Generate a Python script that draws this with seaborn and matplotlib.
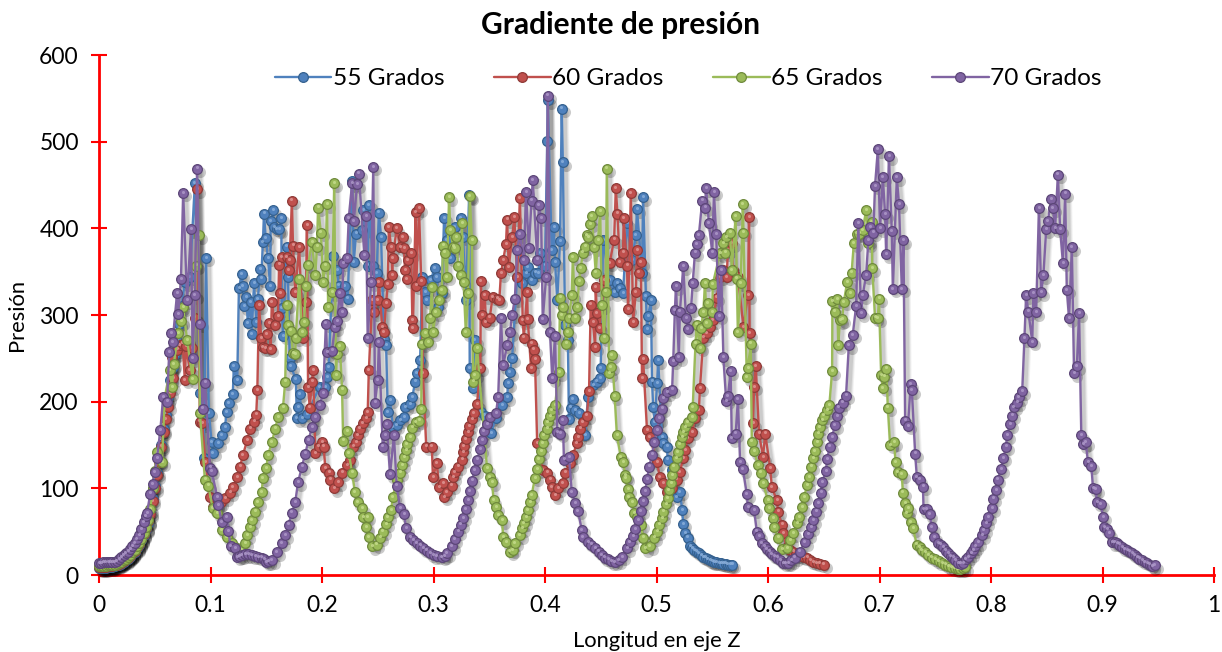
#!/usr/bin/env python
# -*- coding: utf-8 -*-
"""Gradiente de presion a lo largo del eje Z, para cuatro angulos."""

import pandas as pd
import matplotlib
matplotlib.use('Agg')
import matplotlib.pyplot as plt
from matplotlib.transforms import ScaledTranslation
import seaborn as sns

# ==================== Data (x, presion) ====================
SERIES_LABELS = ['55 Grados', '60 Grados', '65 Grados', '70 Grados']
X_TICKS = [0, 0.1, 0.2, 0.3, 0.4, 0.5, 0.6, 0.7, 0.8, 0.9, 1]
Y_TICKS = [0, 100, 200, 300, 400, 500, 600]

inicio_55 = [(0, 8), (.002, 8), (.004, 8), (.006, 8), (.008, 9), (.01, 9), (.012, 9), (.014, 10), (.016, 11), (.018, 12),
             (.02, 13), (.022, 15), (.024, 17), (.026, 19), (.028, 21), (.03, 24), (.032, 27), (.034, 31), (.036, 35),
             (.038, 40), (.04, 46), (.042, 53), (.044, 60), (.046, 72), (.048, 88), (.05, 103), (.052, 118), (.054, 132),
             (.056, 150), (.058, 168), (.06, 185), (.062, 205), (.064, 225), (.066, 240), (.068, 255), (.07, 270), (.072, 290), (.074, 310)]
pico_55 = [(.0770, 338), (.0815, 344), (.086, 452), (.0905, 210), (.094, 135), (.096, 366), (.0985, 187), (.101, 153),
           (.102, 141), (.107, 152), (.11, 161), (.113, 171), (.1145, 188), (.1165, 198), (.12, 209), (.121, 241), (.124, 225),
           (.1255, 331), (.128, 347), (.129, 333), (.13, 310), (.132, 321), (.1335, 291), (.136, 315), (.137, 278),
           (.139, 337), (.141, 292), (.1425, 318), (.1445, 353), (.1455, 342), (.147, 384), (.148, 417), (.1495, 389),
           (.1515, 366), (.1535, 333), (.154, 408), (.156, 421), (.157, 401), (.1595, 399), (.1615, 399), (.1635, 412),
           (.164, 308), (.165, 276), (.1685, 379), (.1695, 344), (.171, 250), (.172, 241), (.1765, 226), (.1775, 181),
           (.1785, 194), (.18, 209), (.182, 181), (.1865, 186), (.198, 217), (.203, 217), (.2045, 228), (.206, 240),
           (.21, 368), (.2135, 352), (.215, 334), (.2205, 333), (.223, 319), (.227, 455), (.2285, 361), (.2305, 394),
           (.236, 398), (.237, 421), (.241, 357), (.242, 427), (.246, 357), (.249, 348), (.251, 418), (.253, 390),
           (.2555, 272), (.2575, 265), (.259, 188), (.261, 202), (.2635, 171), (.267, 173), (.27, 179), (.2735, 182),
           (.2745, 194), (.279, 197), (.281, 205), (.2835, 223), (.285, 233), (.288, 248), (.29, 344), (.2925, 326),
           (.294, 317), (.2975, 340), (.301, 354), (.303, 344), (.304, 309), (.3075, 325), (.3095, 412), (.312, 386),
           (.315, 366), (.319, 401), (.3245, 412), (.3265, 390), (.329, 317), (.332, 438), (.3325, 239), (.3355, 216),
           (.337, 271), (.3425, 188), (.346, 184), (.3515, 164), (.356, 181), (.3615, 196), (.366, 205), (.367, 221),
           (.3685, 234), (.3705, 250)]
medio_55 = [(.375, 344), (.3795, 337), (.383, 348), (.3845, 355), (.388, 340), (.391, 349), (.394, 348), (.3955, 371),
            (.4, 357), (.402, 501), (.4025, 548), (.406, 375), (.408, 401), (.409, 361), (.411, 317), (.4135, 385),
            (.415, 538), (.416, 476), (.418, 288), (.4205, 271), (.4215, 180), (.423, 193), (.425, 203), (.427, 190),
            (.4305, 187), (.433, 164), (.436, 161), (.4385, 205), (.443, 219), (.4465, 223), (.4495, 227), (.45, 239),
            (.452, 386), (.458, 340), (.4625, 326), (.4645, 337), (.467, 331), (.47, 325), (.4735, 406), (.478, 363),
            (.4815, 392), (.4825, 422), (.487, 349), (.488, 436), (.4905, 322), (.4915, 284), (.4925, 299), (.495, 317),
            (.496, 223), (.497, 194), (.4985, 176), (.5005, 221), (.5015, 248), (.505, 159), (.506, 152), (.5095, 148),
            (.51, 133), (.514, 121), (.518, 90), (.521, 96), (.523, 75), (.524, 59), (.526, 48), (.528, 43), (.53, 33)]
final_55 = [(.532, 31), (.534, 29), (.536, 27), (.538, 25), (.54, 23), (.542, 21), (.544, 20), (.546, 18), (.548, 17),
            (.55, 16), (.552, 15), (.5535, 15), (.556, 14), (.558, 14), (.56, 13), (.562, 13), (.564, 12), (.566, 12), (.568, 12)]

inicio_60 = [(0, 9), (.002, 9), (.004, 9), (.006, 9), (.008, 10), (.01, 10), (.012, 10), (.014, 11), (.016, 12), (.018, 13),
             (.02, 14), (.022, 16), (.024, 18), (.026, 20), (.028, 22), (.03, 25), (.032, 28), (.034, 32), (.036, 36),
             (.038, 41), (.04, 47), (.042, 54), (.044, 62), (.046, 70), (.048, 85), (.05, 100), (.052, 115), (.054, 130),
             (.056, 148), (.058, 165), (.06, 180), (.062, 194), (.064, 210)]
pico_60 = [(.0655, 252), (.0665, 227), (.07, 260), (.0725, 265), (.075, 267), (.077, 225), (.078, 264), (.0815, 236),
           (.0835, 262), (.086, 297), (.088, 445), (.0905, 177), (.0925, 175), (.0955, 130), (.0995, 90), (.102, 78),
           (.105, 80), (.109, 84), (.113, 89), (.1175, 95), (.12, 101), (.124, 113), (.1265, 125), (.129, 138), (.133, 156),
           (.1355, 169), (.139, 177), (.141, 185), (.142, 213), (.1435, 311), (.1455, 273), (.147, 263), (.149, 262),
           (.1505, 278), (.1525, 291), (.154, 261), (.155, 315), (.158, 288), (.1605, 299), (.1615, 358), (.1625, 325),
           (.164, 367), (.1685, 367), (.17, 352), (.171, 363), (.173, 432), (.174, 380), (.176, 326), (.1795, 378),
           (.183, 274), (.1855, 315), (.1865, 404), (.1875, 217), (.189, 193), (.191, 223), (.192, 236), (.194, 141),
           (.197, 148), (.2, 153), (.2015, 148), (.203, 123), (.2065, 118), (.2075, 110), (.211, 100), (.2145, 107),
           (.218, 118), (.2225, 127), (.225, 133), (.228, 148), (.2305, 153), (.232, 161), (.234, 169), (.2365, 175),
           (.2395, 181), (.241, 188), (.242, 236), (.245, 317), (.2465, 303), (.25, 317), (.251, 338), (.254, 286),
           (.2555, 280), (.2575, 314), (.259, 336), (.26, 401), (.262, 378), (.263, 346), (.2635, 366), (.267, 400),
           (.27, 378), (.2725, 390), (.2735, 377), (.2745, 352), (.276, 341), (.277, 363), (.28, 371), (.281, 294),
           (.2815, 285), (.284, 419), (.2845, 334), (.287, 423), (.289, 339), (.2905, 233), (.2935, 148), (.2985, 148),
           (.2995, 113), (.303, 129), (.305, 101), (.3085, 106), (.3095, 90), (.312, 96), (.3165, 103), (.3175, 113),
           (.319, 119), (.322, 125), (.3255, 133), (.3265, 142), (.327, 149), (.329, 157), (.331, 165), (.332, 172),
           (.3345, 180), (.336, 187), (.339, 197), (.342, 239)]
medio_60 = [(.3425, 339), (.3435, 300), (.346, 323), (.347, 292), (.3505, 297), (.353, 321), (.357, 319), (.359, 317),
            (.3605, 348), (.3625, 363), (.365, 382), (.366, 410), (.3675, 355), (.3705, 390), (.3725, 413), (.375, 344),
            (.3775, 435), (.38, 294), (.381, 274), (.384, 326), (.3845, 295), (.3875, 239), (.388, 267), (.39, 260),
            (.391, 249), (.393, 152), (.398, 121), (.402, 118), (.4045, 110), (.406, 101), (.409, 92), (.412, 100),
            (.416, 106), (.418, 118), (.4225, 129), (.425, 138), (.4285, 152), (.43, 159), (.4315, 169), (.434, 176),
            (.4375, 184), (.4395, 212), (.441, 312), (.443, 292), (.445, 263), (.4455, 332), (.4465, 302), (.449, 285),
            (.453, 340), (.458, 360), (.462, 387), (.4635, 446), (.465, 417), (.467, 361), (.47, 372), (.4705, 412),
            (.4735, 357), (.4745, 307), (.477, 441), (.479, 292), (.4815, 326), (.4825, 375), (.484, 349), (.486, 361),
            (.487, 227), (.488, 249), (.4915, 167), (.494, 159), (.5005, 130), (.503, 113), (.506, 106), (.5095, 96),
            (.514, 100), (.518, 110), (.521, 119), (.524, 135), (.5255, 144), (.528, 158), (.532, 165), (.5345, 181),
            (.538, 190), (.539, 216)]
final_60 = [(.542, 274), (.545, 279), (.548, 286), (.5505, 294), (.554, 320), (.557, 344), (.56, 352), (.563, 344),
            (.564, 375), (.5675, 383), (.5685, 352), (.573, 344), (.578, 286), (.582, 323), (.583, 413), (.5835, 279),
            (.5865, 175), (.5875, 217), (.589, 241), (.592, 163), (.5955, 136), (.5975, 163), (.602, 123), (.6035, 101),
            (.608, 86), (.609, 73), (.6125, 58), (.6135, 48), (.617, 32), (.62, 29), (.6225, 27), (.6255, 24), (.6285, 22),
            (.632, 21), (.635, 20), (.638, 17), (.6405, 15), (.6435, 14), (.6465, 13), (.65, 12)]

inicio_65 = [(0, 10), (.002, 10), (.004, 10), (.006, 10), (.008, 11), (.01, 11), (.012, 11), (.014, 12), (.016, 13), (.018, 14),
             (.02, 15), (.022, 17), (.024, 19), (.026, 21), (.028, 23), (.03, 26), (.032, 29), (.034, 33), (.036, 37),
             (.038, 42), (.04, 48), (.042, 55), (.044, 63), (.046, 76), (.048, 100), (.05, 120), (.052, 142), (.0565, 130), (.059, 205)]
pico_65 = [(.0635, 236), (.0655, 217), (.067, 243), (.071, 279), (.0735, 293), (.0755, 309), (.079, 271), (.084, 226),
           (.087, 357), (.0895, 392), (.0905, 187), (.095, 110), (.098, 103), (.102, 77), (.106, 71), (.11, 52), (.1145, 44),
           (.119, 37), (.124, 31), (.128, 29), (.131, 37), (.133, 46), (.1355, 55), (.137, 63), (.14, 73), (.1425, 84),
           (.146, 96), (.147, 112), (.15, 123), (.1515, 138), (.155, 153), (.158, 169), (.1605, 182), (.165, 193), (.167, 223),
           (.1685, 312), (.1695, 288), (.172, 282), (.174, 256), (.176, 255), (.1765, 274), (.1795, 342), (.182, 280),
           (.184, 292), (.1855, 333), (.1875, 358), (.191, 384), (.194, 346), (.1955, 379), (.1965, 424), (.199, 395),
           (.201, 338), (.203, 357), (.2045, 428), (.2055, 309), (.209, 326), (.211, 452), (.2125, 231), (.2135, 255),
           (.216, 264), (.218, 214), (.219, 155), (.2225, 166), (.224, 141), (.227, 118), (.2295, 96), (.232, 84), (.236, 77),
           (.237, 67), (.2395, 55), (.241, 67), (.242, 44), (.245, 33), (.249, 35), (.252, 43), (.2545, 50), (.2575, 59),
           (.259, 67), (.262, 75), (.2635, 90), (.267, 110), (.27, 118), (.272, 127), (.2735, 136), (.2755, 144), (.276, 151),
           (.279, 159), (.281, 170), (.284, 176), (.287, 178), (.289, 191), (.2895, 267), (.2925, 279), (.295, 269), (.297, 297)]
medio_65 = [(.2985, 332), (.2995, 280), (.302, 303), (.305, 317), (.3075, 329), (.3085, 380), (.31, 372), (.312, 344),
            (.314, 436), (.315, 398), (.3175, 379), (.319, 377), (.3205, 390), (.322, 357), (.3245, 346), (.3255, 406),
            (.327, 338), (.329, 280), (.331, 325), (.3325, 437), (.3345, 386), (.3355, 223), (.337, 231), (.339, 262),
            (.348, 123), (.3505, 113), (.3525, 107), (.354, 86), (.356, 78), (.358, 69), (.3615, 63), (.3625, 44), (.365, 38),
            (.3685, 27), (.371, 29), (.373, 37), (.3775, 46), (.3795, 54), (.381, 60), (.383, 67), (.3845, 75), (.3865, 84),
            (.388, 92), (.391, 112), (.393, 122), (.3945, 134), (.3965, 143), (.398, 152), (.399, 161), (.402, 169), (.4025, 176),
            (.4045, 183), (.406, 190), (.409, 196), (.4125, 234), (.4135, 320), (.415, 300), (.416, 309), (.419, 267),
            (.4205, 280), (.4215, 297), (.424, 323), (.425, 367), (.427, 297), (.429, 309), (.4305, 339), (.432, 354),
            (.434, 372), (.436, 379), (.4375, 392), (.4385, 390), (.4405, 405), (.442, 414), (.444, 378), (.4455, 349),
            (.4475, 386), (.4495, 420), (.451, 311), (.453, 274), (.4545, 327), (.4555, 469), (.4575, 233), (.459, 240),
            (.46, 254), (.4625, 206), (.4645, 161), (.468, 136), (.47, 130), (.472, 115), (.4725, 112), (.4745, 99), (.475, 90),
            (.478, 84), (.48, 71), (.4825, 67), (.486, 58), (.488, 43), (.49, 31), (.494, 33), (.498, 43), (.5005, 50), (.5025, 58),
            (.505, 66), (.506, 73), (.5085, 82), (.51, 89), (.511, 98), (.513, 106), (.514, 115), (.5155, 125), (.518, 135),
            (.519, 142), (.521, 151), (.523, 159), (.524, 165), (.5255, 171), (.528, 176), (.532, 182), (.5325, 194)]
final_65 = [(.535, 267), (.536, 289), (.539, 262), (.54, 285), (.542, 303), (.5435, 337), (.545, 291), (.546, 314), (.55, 303),
            (.5505, 336), (.557, 371), (.56, 383), (.5615, 372), (.5625, 390), (.566, 395), (.5675, 352), (.571, 414), (.572, 342),
            (.573, 280), (.5755, 337), (.5775, 428), (.578, 395), (.581, 228), (.582, 239), (.5845, 267), (.5855, 154), (.5875, 143),
            (.591, 127), (.5935, 118), (.5955, 106), (.6, 86), (.601, 77), (.6045, 66), (.6055, 55), (.609, 43), (.6125, 30),
            (.617, 31), (.62, 40), (.6225, 48), (.626, 60), (.628, 67), (.6305, 78), (.6325, 90), (.635, 104), (.637, 113),
            (.6385, 125), (.6405, 135), (.642, 143), (.644, 153), (.645, 163), (.6465, 171), (.6485, 179), (.65, 184), (.653, 190),
            (.655, 196), (.6575, 235), (.6578, 316), (.66, 304), (.662, 318), (.663, 265), (.6645, 294), (.6665, 295), (.668, 315),
            (.671, 338), (.6735, 325), (.675, 349), (.677, 383), (.6795, 394), (.682, 394), (.685, 398), (.688, 421), (.69, 383),
            (.693, 407), (.6935, 354), (.696, 297), (.6985, 296), (.6995, 319), (.7015, 231), (.703, 216), (.704, 229), (.706, 238),
            (.7075, 193), (.7095, 150), (.713, 153), (.7145, 130), (.7165, 119), (.72, 116), (.721, 95), (.723, 83), (.7245, 71),
            (.7255, 77), (.728, 61), (.73, 54), (.7335, 35), (.736, 32), (.738, 29), (.741, 26), (.7435, 23), (.747, 20), (.75, 18),
            (.753, 16), (.756, 14), (.759, 12), (.7615, 10), (.7645, 9), (.7675, 8), (.77, 7), (.772, 7), (.7745, 8), (.7765, 9)]

inicio_70 = [(0, 14), (.002, 14), (.004, 14.5), (.006, 15), (.008, 15), (.01, 15), (.012, 15), (.014, 15), (.016, 16), (.018, 18),
             (.02, 21), (.022, 23), (.024, 25), (.026, 27), (.028, 30), (.03, 33), (.032, 37), (.034, 41), (.036, 46),
             (.038, 53), (.04, 61), (.042, 68), (.043, 71), (.046, 94), (.048, 105), (.05, 119), (.052, 135), (.055, 167), (.0575, 205)]
pico_70 = [(.061, 200), (.063, 257), (.065, 279), (.066, 269), (.07, 325), (.071, 301), (.0735, 341), (.0755, 441), (.079, 317),
           (.0825, 399), (.084, 250), (.086, 323), (.088, 469), (.0905, 290), (.093, 192), (.095, 222), (.0995, 124), (.101, 120),
           (.106, 90), (.107, 81), (.11, 61), (.1145, 67), (.116, 51), (.118, 33), (.122, 31), (.124, 21), (.126, 22), (.128, 23),
           (.131, 24), (.134, 24), (.137, 23), (.14, 22), (.143, 21), (.146, 20), (.148, 18), (.15, 15), (.152, 16), (.155, 17),
           (.1595, 26), (.164, 37), (.167, 46), (.17, 58), (.173, 72), (.176, 84), (.1785, 107), (.182, 125), (.185, 140),
           (.188, 156), (.191, 171), (.194, 182), (.198, 196), (.201, 210), (.2035, 290), (.2045, 257), (.209, 259), (.2115, 286),
           (.2135, 293), (.216, 325), (.218, 303), (.219, 360), (.2225, 366), (.224, 412), (.227, 452), (.2285, 408), (.2315, 451),
           (.233, 463), (.238, 369), (.2395, 414), (.241, 273), (.244, 338), (.246, 471), (.2475, 199), (.25, 225), (.251, 269),
           (.2545, 148), (.2565, 161), (.258, 174), (.261, 116), (.2645, 161), (.267, 103), (.27, 77), (.2735, 70), (.2755, 54),
           (.279, 44), (.282, 40), (.285, 37), (.288, 34), (.291, 31), (.294, 28), (.297, 25), (.3, 23), (.303, 22), (.3075, 21),
           (.31, 22), (.312, 25), (.3165, 33), (.319, 41), (.322, 50), (.3245, 58), (.3265, 66), (.329, 76), (.331, 86), (.3325, 97),
           (.3345, 109), (.337, 121), (.339, 133), (.342, 145), (.3435, 156), (.345, 166), (.348, 174), (.3505, 182), (.356, 187)]
medio_70 = [(.358, 205), (.3605, 296), (.3625, 242), (.366, 265), (.3685, 280), (.3705, 300), (.373, 319), (.375, 375), (.3775, 393),
            (.381, 363), (.383, 442), (.3855, 377), (.388, 432), (.389, 456), (.393, 364), (.3945, 427), (.3965, 412), (.398, 295),
            (.401, 344), (.4025, 553), (.4045, 280), (.4065, 227), (.409, 276), (.411, 165), (.4135, 163), (.416, 179), (.417, 133),
            (.4215, 136), (.424, 96), (.427, 83), (.4295, 74), (.433, 52), (.434, 44), (.4385, 38), (.4415, 35), (.445, 31), (.448, 27),
            (.451, 23), (.4535, 20), (.4565, 18), (.4595, 16), (.4625, 15), (.466, 17), (.469, 21), (.4735, 31), (.476, 38), (.479, 45),
            (.481, 53), (.4835, 63), (.486, 74), (.488, 85), (.49, 97), (.4915, 111), (.4935, 125), (.496, 139), (.498, 153),
            (.5005, 167), (.5025, 181), (.505, 192), (.506, 204), (.5095, 211), (.514, 214), (.515, 247), (.5165, 306), (.5175, 333),
            (.52, 251), (.521, 304), (.524, 356), (.5265, 296), (.528, 284), (.531, 308), (.5325, 337), (.5345, 372), (.536, 382),
            (.538, 392), (.541, 432), (.5435, 424), (.5445, 446), (.547, 406), (.55, 372), (.5515, 442), (.5535, 393), (.556, 299),
            (.558, 352), (.56, 251), (.5625, 201), (.564, 206), (.5665, 235), (.5675, 158), (.571, 163), (.573, 203), (.575, 130),
            (.5775, 122), (.581, 93), (.582, 78), (.5875, 75), (.59, 50), (.592, 45), (.5945, 37), (.597, 33), (.599, 30), (.6015, 27),
            (.6035, 24), (.606, 22), (.608, 20), (.611, 17), (.6135, 14), (.616, 14), (.618, 14), (.621, 17), (.624, 20), (.6285, 27),
            (.633, 38), (.636, 47), (.6385, 55), (.6405, 63), (.643, 73), (.645, 83), (.6475, 95), (.6485, 107), (.652, 120),
            (.653, 134), (.6555, 148), (.6575, 159), (.66, 173), (.662, 183), (.6635, 193), (.667, 199)]
final_70 = [(.67, 207), (.6725, 265), (.676, 277), (.679, 310), (.681, 406), (.6835, 302), (.685, 323), (.688, 346), (.69, 386),
            (.6915, 401), (.6945, 395), (.696, 449), (.6985, 491), (.7005, 400), (.703, 459), (.705, 416), (.706, 370), (.7085, 483),
            (.711, 397), (.712, 330), (.7155, 459), (.7175, 428), (.72, 330), (.7215, 386), (.723, 178), (.7255, 172), (.728, 220),
            (.729, 213), (.732, 140), (.7335, 113), (.736, 110), (.739, 102), (.7395, 76), (.7425, 76), (.745, 70), (.747, 55),
            (.749, 44), (.7525, 37), (.755, 35), (.757, 32), (.7595, 28), (.7615, 25), (.764, 22), (.766, 20), (.768, 17), (.7705, 14),
            (.773, 13), (.775, 14), (.7775, 18), (.7795, 21), (.782, 25), (.784, 29), (.786, 33), (.7885, 38), (.792, 46), (.7935, 52),
            (.7955, 60), (.7975, 67), (.801, 77), (.802, 88), (.8045, 98), (.806, 110), (.809, 122), (.811, 135), (.8135, 148),
            (.8145, 161), (.817, 174), (.819, 184), (.8205, 194), (.8235, 199), (.825, 205), (.828, 212), (.83, 273), (.8315, 323),
            (.8335, 304), (.837, 269), (.838, 325), (.8405, 303), (.843, 423), (.845, 326), (.847, 346), (.8495, 399), (.851, 408),
            (.854, 434), (.8555, 423), (.8575, 400), (.86, 462), (.862, 399), (.8645, 360), (.8665, 440), (.868, 329), (.87, 296),
            (.8725, 378), (.8745, 233), (.877, 241), (.879, 302), (.881, 161), (.8825, 151), (.885, 153), (.887, 130), (.89, 126),
            (.8915, 100), (.894, 99), (.895, 84), (.8985, 82), (.9005, 67), (.9015, 55), (.904, 53), (.906, 48), (.9085, 38), (.911, 38),
            (.913, 37), (.915, 35), (.9175, 32), (.92, 30), (.922, 29), (.9245, 27), (.9265, 25), (.929, 23), (.931, 21), (.933, 19),
            (.9355, 17), (.938, 15), (.94, 14), (.9425, 12), (.9445, 10), (.947, 11)]

# Office palette of the original chart: line, sphere edge, highlight
LINE_COLORS = ['#4F81BD', '#C0504D', '#9BBB59', '#8064A2']
EDGE_COLORS = ['#35618F', '#8F3A37', '#6F8A3C', '#5C4678']
GLOW_COLORS = ['#8DB1DC', '#E09A98', '#C8DE8F', '#B09CCB']
FONT = ['Lato', 'DejaVu Sans']

tablas = []
for label, partes in zip(SERIES_LABELS,
                         [inicio_55 + pico_55 + medio_55 + final_55,
                          inicio_60 + pico_60 + medio_60 + final_60,
                          inicio_65 + pico_65 + medio_65 + final_65,
                          inicio_70 + pico_70 + medio_70 + final_70]):
    t = pd.DataFrame(partes, columns=['z', 'presion'])
    t['serie'] = label
    tablas.append(t)

sns.set_theme(style='white')
plt.rcParams['font.family'] = FONT
plt.rcParams['text.color'] = 'black'
plt.rcParams['axes.labelcolor'] = 'black'

# ==================== Figure ====================
fig = plt.figure(figsize=(12.22, 6.52), dpi=100)
ax = fig.add_axes([99 / 1222, 1 - 575 / 652, 1115 / 1222, 520 / 652])

# soft drop shadow: dark strokes shifted down and to the right
for grosor, alpha in [(6.0, 0.05), (4.5, 0.07), (3.0, 0.09)]:
    desp = ax.transData + ScaledTranslation(2 / 72, -2.5 / 72, fig.dpi_scale_trans)
    for t in tablas:
        sns.lineplot(data=t, x='z', y='presion', color='black', linewidth=grosor, alpha=alpha,
                     marker='o', markersize=8, markeredgewidth=0, estimator=None, errorbar=None,
                     transform=desp, clip_on=False, ax=ax, legend=False, zorder=2)

brillo = ax.transData + ScaledTranslation(-0.3 / 72, 0.9 / 72, fig.dpi_scale_trans)
for i, t in enumerate(tablas):
    sns.lineplot(data=t, x='z', y='presion', color=LINE_COLORS[i], linewidth=1.7, marker='o', markersize=7,
                 markerfacecolor=LINE_COLORS[i], markeredgecolor=EDGE_COLORS[i], markeredgewidth=0.9,
                 estimator=None, errorbar=None, clip_on=False, ax=ax, label=SERIES_LABELS[i], zorder=3 + i)
    sns.scatterplot(data=t, x='z', y='presion', color=GLOW_COLORS[i], s=5, linewidth=0, alpha=0.8,
                    transform=brillo, clip_on=False, ax=ax, legend=False, zorder=3 + i)

ax.set_xlim(0, 1)
ax.set_ylim(0, 600)
ax.set_xticks(X_TICKS, [f'{v:g}' for v in X_TICKS])
ax.set_yticks(Y_TICKS)
ax.tick_params(axis='both', colors='red', direction='inout', length=11, width=1.5, labelsize=16.5,
               labelcolor='black', bottom=True, left=True)
ax.tick_params(axis='x', pad=9)
ax.tick_params(axis='y', pad=9)
sns.despine(ax=ax)
for lado in ['left', 'bottom']:
    ax.spines[lado].set_color('red')
    ax.spines[lado].set_linewidth(2)
    ax.spines[lado].set_zorder(1)

ax.set_xlabel('Longitud en eje Z', fontsize=15.8, labelpad=11)
ax.set_ylabel('Presión', fontsize=15.8, labelpad=9)
fig.text(621 / 1222, 1 - 25 / 652, 'Gradiente de presión', fontsize=21.5, fontweight='bold', ha='center', va='center')

ley = ax.legend(loc='upper left', bbox_to_anchor=(0.158, 0.975), ncol=4, frameon=False, fontsize=17.6,
                handlelength=2.3, handletextpad=0.05, columnspacing=2.05, borderpad=0, borderaxespad=0)

fig.savefig('out.png', dpi=100)
plt.close(fig)
